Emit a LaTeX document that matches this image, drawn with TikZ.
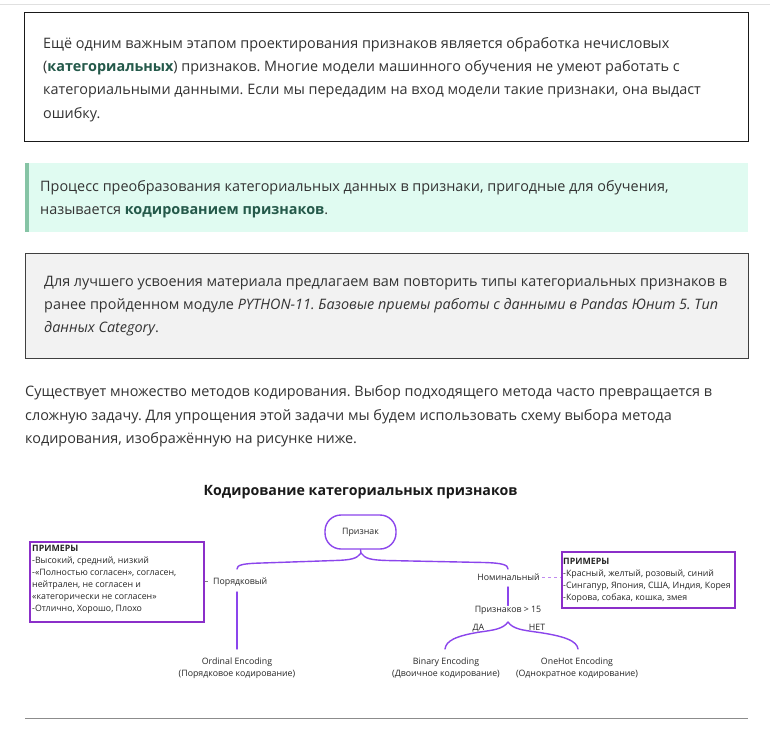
\documentclass[tikz,border=0pt]{standalone}
\usepackage{fontspec}
\setmainfont{Open Sans}
\frenchspacing
\definecolor{txt}{HTML}{333333}
\definecolor{grn}{HTML}{24594A}
\definecolor{mint}{HTML}{E0FBF1}
\definecolor{mintbar}{HTML}{86C4A5}
\definecolor{greybg}{HTML}{F2F2F2}
\definecolor{purp}{HTML}{8B45EC}
\definecolor{purpbox}{HTML}{8B2FC9}
\definecolor{purpl}{HTML}{C08AF0}
\tikzset{
  body/.style={anchor=base west, inner sep=0, text=txt, font=\fontsize{14.4}{23}\selectfont},
  dtxt/.style={anchor=base west, inner sep=0, text=black!85, font=\fontsize{8.8}{11}\selectfont},
  dctr/.style={anchor=base, inner sep=0, text=black!85, font=\fontsize{8.8}{11}\selectfont},
  brace/.style={draw=purp, line width=1.4pt, line cap=round},
  exbox/.style={draw=purpbox, line width=1.5pt, anchor=north west, inner sep=0},
}
\begin{document}
\begin{tikzpicture}[x=1pt,y=-1pt]
\useasboundingbox[fill=white] (0,0) rectangle (775,741);
% top rule
\draw[black!12, line width=1pt] (0,4.5) -- (770,4.5);
% box 1
\node[draw=black!90, line width=1pt, anchor=north west, minimum width=724pt, minimum height=129pt, inner sep=0] (b1) at (24,12) {};
\node[body] (b1l1) at (43,49) {Ещё одним важным этапом проектирования признаков является обработка нечисловых};
\node[body] (b1l2) at (43,72) {(\textbf{\color{grn}категориальных}) признаков. Многие модели машинного обучения не умеют работать с};
\node[body] (b1l3) at (43,95) {категориальными данными. Если мы передадим на вход модели такие признаки, она выдаст};
\node[body] (b1l4) at (43,118) {ошибку.};
% green box
\node[fill=mint, anchor=north west, minimum width=723pt, minimum height=69pt, inner sep=0] (g) at (25,163) {};
\node[fill=mintbar, anchor=north west, minimum width=4pt, minimum height=69pt, inner sep=0] (gbar) at (25,163) {};
\node[body] (gl1) at (40,191) {Процесс преобразования категориальных данных в признаки, пригодные для обучения,};
\node[body] (gl2) at (40,214) {называется \textbf{\color{grn}кодированием признаков}.};
% grey box
\node[draw=black!75, fill=greybg, line width=1pt, anchor=north west, minimum width=723pt, minimum height=105pt, inner sep=0] (gr) at (25,253) {};
\node[body] (grl1) at (44,286) {Для лучшего усвоения материала предлагаем вам повторить типы категориальных признаков в};
\node[body] (grl2) at (44,309) {ранее пройденном модуле \textit{PYTHON-11. Базовые приемы работы с данными в Pandas Юнит 5. Тип}};
\node[body] (grl3) at (44,332) {\textit{данных Category}.};
% paragraph
\node[body] (p1) at (25,396) {Существует множество методов кодирования. Выбор подходящего метода часто превращается в};
\node[body] (p2) at (25,420) {сложную задачу. Для упрощения этой задачи мы будем использовать схему выбора метода};
\node[body] (p3) at (25,443) {кодирования, изображённую на рисунке ниже.};
% diagram title
\node[anchor=base, inner sep=0, text=black!90, font=\fontsize{14.2}{16}\selectfont\bfseries] (title) at (360.5,495) {Кодирование категориальных признаков};
% root
\node[draw=purp, line width=1.4pt, rounded corners=16pt, minimum width=71pt, minimum height=34pt, inner sep=0, text=black!85, font=\fontsize{8.8}{11}\selectfont] (root) at (360.5,532) {Признак};
\coordinate (tip) at (361,553);
\coordinate (lend) at (237,569);
\coordinate (rend) at (508,569);
\draw[brace] (root.south) -- (tip) .. controls (357,559) and (350,560) .. (335,560.5) -- (262,563) .. controls (242,563.5) and (237,565) .. (lend);
\draw[brace] (tip) .. controls (365,559) and (372,560) .. (387,560.5) -- (484,562.5) .. controls (503,563) and (508,565) .. (rend);
% left branch
\node[dtxt] (ord) at (213,584) {Порядковый};
\coordinate (tick) at (204.5,581);
\draw[black!50, line width=0.6pt] (tick) -- ++(3.5,0);
\coordinate (ordtop) at (237,592);
\coordinate (ordbot) at (237,649);
\draw[brace] (ordtop) -- (ordbot);
\node[exbox, minimum width=174pt, minimum height=80pt] (lbox) at (29,541) {};
\node[dtxt, font=\fontsize{8.8}{11}\selectfont\bfseries] (lb0) at (32,551.5) {ПРИМЕРЫ};
\node[dtxt] (lb1) at (32,563.5) {-Высокий, средний, низкий};
\node[dtxt] (lb2) at (32,575.5) {-«Полностью согласен», согласен,};
\node[dtxt] (lb3) at (32,587.5) {нейтрален, не согласен и};
\node[dtxt] (lb4) at (32,599.5) {«категорически не согласен»};
\node[dtxt] (lb5) at (32,611) {-Отлично, Хорошо, Плохо};
% right branch
\node[dctr] (nom) at (508.5,580) {Номинальный};
\node[exbox, minimum width=173pt, minimum height=56pt] (rbox) at (561,551) {};
\draw[purpl, line width=1pt, dash pattern=on 3pt off 3pt] (542,577) -- (rbox.west |- 0,577);
\node[dtxt, font=\fontsize{8.8}{11}\selectfont\bfseries] (rb0) at (563,564) {ПРИМЕРЫ};
\node[dtxt] (rb1) at (563,576) {-Красный, желтый, розовый, синий};
\node[dtxt] (rb2) at (563,588.5) {-Сингапур, Япония, США, Индия, Корея};
\node[dtxt] (rb3) at (563,600.5) {-Корова, собака, кошка, змея};
\coordinate (nomb) at (508,587);
\node[dctr] (cnt) at (508,612) {Признаков > 15};
\draw[brace] (nomb) -- (cnt.north);
\node[dctr] (da) at (478.5,630) {ДА};
\node[dctr] (net) at (537,630) {НЕТ};
\coordinate (tip2) at (508,622);
\coordinate (bl) at (445,649);
\coordinate (br) at (578,649);
\draw[brace] (tip2) .. controls (503,629) and (494,630) .. (480,632) .. controls (455,636) and (446,641) .. (bl);
\draw[brace] (tip2) .. controls (513,629) and (522,630) .. (536,632) .. controls (565,636) and (577,641) .. (br);
% leaves
\node[dctr] (o1) at (237,664) {Ordinal Encoding};
\node[dctr] (o2) at (237,676) {(Порядковое кодирование)};
\node[dctr] (bi1) at (446,664) {Binary Encoding};
\node[dctr] (bi2) at (446,676) {(Двоичное кодирование)};
\node[dctr] (oh1) at (577,664) {OneHot Encoding};
\node[dctr] (oh2) at (577,676) {(Однократное кодирование)};
% bottom rule
\draw[black!45, line width=1pt] (25,718) -- (748,718);
\end{tikzpicture}
\end{document}
